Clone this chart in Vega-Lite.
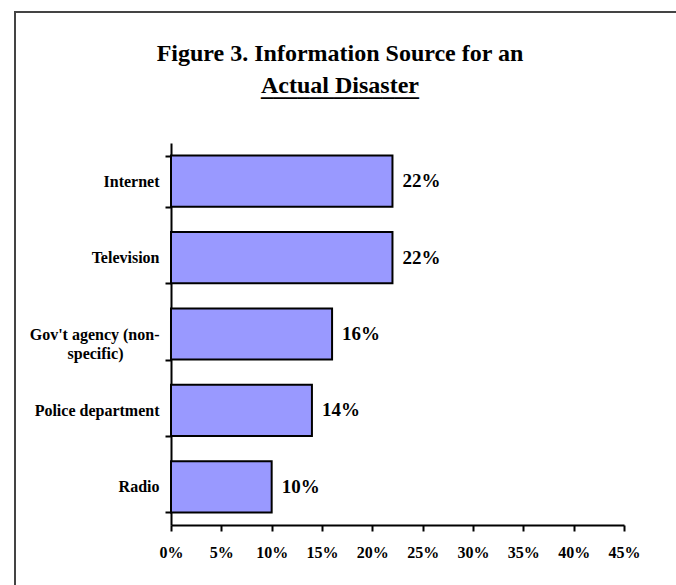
{
  "$schema": "https://vega.github.io/schema/vega-lite/v6.json",
  "width": 665,
  "height": 577,
  "autosize": {"type": "none"},
  "padding": {"left": 15, "top": 12, "right": -4, "bottom": -4},
  "background": "white",
  "title": {
    "text": ["Figure 3. Information Source for an", "Actual Disaster"],
    "subtitle": "_____________",
    "anchor": "middle",
    "dx": -7.5,
    "font": "Liberation Serif",
    "fontSize": 24,
    "fontWeight": "bold",
    "color": "black",
    "lineHeight": 32,
    "subtitleFont": "Liberation Serif",
    "subtitleFontSize": 24.3,
    "subtitleFontWeight": "bold",
    "subtitleColor": "black",
    "subtitlePadding": -22.7,
    "offset": -96
  },
  "data": {
    "values": [
      {"source": "Internet", "share": 0.22},
      {"source": "Television", "share": 0.22},
      {"source": "Gov't agency (non-specific)", "share": 0.16},
      {"source": "Police department", "share": 0.14},
      {"source": "Radio", "share": 0.10}
    ]
  },
  "encoding": {
    "y": {
      "field": "source",
      "type": "nominal",
      "sort": null,
      "scale": {"range": [131, 513], "paddingInner": 0.33, "paddingOuter": 0.165},
      "axis": {
        "title": null,
        "orient": "left",
        "offset": -156,
        "grid": false,
        "domainColor": "black",
        "domainWidth": 2,
        "tickColor": "black",
        "tickWidth": 2,
        "tickSize": 6,
        "tickBand": "extent",
        "labelFont": "Liberation Serif",
        "labelFontSize": 16,
        "labelFontWeight": "bold",
        "labelColor": "black",
        "labelPadding": 6,
        "labelLineHeight": 19,
        "labelExpr": "datum.value == \"Gov't agency (non-specific)\" ? [\"Gov't agency (non-\", \"specific)\u00a0\u00a0\u00a0\u00a0\u00a0\u00a0\u00a0\u00a0\u00a0\u200b\"] : datum.label"
      }
    },
    "x": {
      "field": "share",
      "type": "quantitative",
      "scale": {"domain": [0, 0.45], "range": [156, 609], "nice": false},
      "axis": {
        "title": null,
        "orient": "bottom",
        "offset": -64,
        "grid": false,
        "values": [0, 0.05, 0.1, 0.15, 0.2, 0.25, 0.3, 0.35, 0.4, 0.45],
        "format": ".0%",
        "labelFlush": false,
        "labelOverlap": false,
        "domainColor": "black",
        "domainWidth": 2,
        "tickColor": "black",
        "tickWidth": 2,
        "tickSize": 6,
        "labelFont": "Liberation Serif",
        "labelFontSize": 16,
        "labelFontWeight": "bold",
        "labelColor": "black",
        "labelPadding": 13
      }
    }
  },
  "layer": [
    {
      "mark": {"type": "bar", "fill": "#9999ff", "stroke": "black", "strokeWidth": 2}
    },
    {
      "mark": {
        "type": "text",
        "align": "left",
        "baseline": "middle",
        "dx": 10,
        "font": "Liberation Serif",
        "fontSize": 19,
        "fontWeight": "bold",
        "color": "black"
      },
      "encoding": {"text": {"field": "share", "format": ".0%"}}
    }
  ],
  "config": {
    "view": {"stroke": "#444444", "strokeWidth": 2}
  }
}
